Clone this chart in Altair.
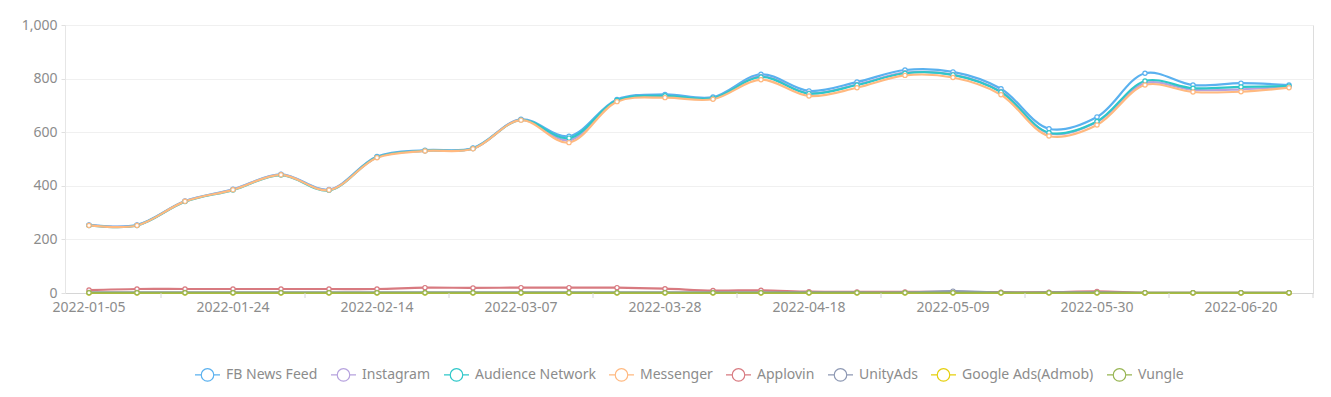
import altair as alt
import pandas as pd

dates = ["2022-01-05", "2022-01-10", "2022-01-17", "2022-01-24", "2022-01-31", "2022-02-07",
         "2022-02-14", "2022-02-21", "2022-02-28", "2022-03-07", "2022-03-14", "2022-03-21",
         "2022-03-28", "2022-04-04", "2022-04-11", "2022-04-18", "2022-04-25", "2022-05-02",
         "2022-05-09", "2022-05-16", "2022-05-23", "2022-05-30", "2022-06-06", "2022-06-13",
         "2022-06-20", "2022-06-27"]

fb_news_feed = [254, 254, 343, 387, 443, 386, 509, 533, 541, 648, 585, 722, 741, 731, 816, 754,
                787, 832, 825, 762, 613, 657, 820, 776, 783, 776]
instagram = [253, 253, 342, 386, 442, 385, 507, 531, 539, 647, 570, 717, 734, 726, 808, 745,
             778, 822, 815, 752, 596, 638, 783, 758, 760, 770]
audience_network = [252, 252, 341, 384, 440, 383, 507, 531, 539, 646, 578, 719, 736, 727, 806, 744,
                    776, 820, 814, 750, 598, 640, 791, 764, 769, 772]
messenger = [252, 252, 342, 385, 441, 384, 505, 530, 538, 645, 561, 714, 729, 723, 796, 735,
             766, 812, 804, 740, 586, 627, 776, 750, 751, 766]
applovin = [11, 15, 15, 15, 15, 15, 15, 20, 19, 20, 20, 20, 16, 9, 10, 5,
            4, 4, 4, 3, 3, 6, 1, 1, 1, 1]
unityads = [2, 2, 2, 2, 2, 2, 2, 2, 2, 2, 2, 2, 2, 2, 2, 2,
            2, 2, 7, 2, 2, 2, 1, 1, 1, 1]
google_ads = [0, 0, 0, 0, 0, 0, 0, 0, 0, 0, 0, 0, 0, 0, 0, 0,
              0, 0, 0, 0, 0, 0, 0, 0, 0, 0]
vungle = [1, 1, 1, 1, 1, 1, 1, 1, 1, 1, 1, 1, 1, 1, 1, 1,
          1, 1, 1, 1, 1, 1, 1, 1, 1, 1]

series_names = ["FB News Feed", "Instagram", "Audience Network", "Messenger",
                "Applovin", "UnityAds", "Google Ads(Admob)", "Vungle"]
series_values = [fb_news_feed, instagram, audience_network, messenger,
                 applovin, unityads, google_ads, vungle]
series_colors = ["#5ab1ef", "#b6a2de", "#2ec7c9", "#ffb980",
                 "#d87a80", "#8d98b3", "#e5cf0d", "#97b552"]

rows = []
for order, (name, vals) in enumerate(zip(series_names, series_values)):
    for d, v in zip(dates, vals):
        rows.append({"date": d, "series": name, "value": v, "ord": order})
df = pd.DataFrame(rows)

label_dates = dates[0::3]
tick_dates = dates[2::3]
tick_df = pd.DataFrame({"date": tick_dates})
end_df = pd.DataFrame({"date": [dates[-1]]})

W, H = 1248, 268
FONT = "Noto Sans"
GRAY = "#8c8c8c"

xscale = alt.Scale(type="band", domain=dates, paddingInner=0, paddingOuter=0)
cscale = alt.Scale(domain=series_names, range=series_colors)

legend_symbol = ("M-1,0L-0.5,0M0.5,0L1,0"
                 "M-0.5,0A0.5,0.5 0 1,0 0.5,0A0.5,0.5 0 1,0 -0.5,0Z")

base = alt.Chart(df)

lines = base.mark_line(interpolate="catmull-rom", strokeWidth=2.2).encode(
    x=alt.X("date:N", scale=xscale, bandPosition=0.5,
            axis=alt.Axis(values=label_dates, labelAngle=0, ticks=False, title=None,
                          labelColor=GRAY, labelFontSize=14, labelFont=FONT,
                          domainColor="#d6d6d6", labelPadding=7, grid=False)),
    y=alt.Y("value:Q", scale=alt.Scale(domain=[0, 1000], nice=False),
            axis=alt.Axis(values=[0, 200, 400, 600, 800, 1000], format=",.0f", title=None,
                          labelColor=GRAY, labelFontSize=14, labelFont=FONT,
                          tickSize=4, tickColor="#e0e0e0", domainColor="#e6e6e6",
                          labelPadding=4, gridColor="#f0f0f0")),
    color=alt.Color("series:N", scale=cscale, sort=series_names,
                    legend=alt.Legend(title=None, orient="none", direction="horizontal",
                                      legendX=129, legendY=336, columns=8,
                                      symbolType=legend_symbol, symbolSize=625,
                                      symbolFillColor="white", symbolStrokeWidth=1.2,
                                      labelFont=FONT, labelFontSize=14, labelColor=GRAY,
                                      labelOffset=5, columnPadding=10)),
    detail="series:N",
    order=alt.Order("ord:Q"),
)

points = base.mark_point(shape="circle", filled=False, fill="white", fillOpacity=1,
                         opacity=1, size=18, strokeWidth=1.2).encode(
    x=alt.X("date:N", scale=xscale, bandPosition=0.5),
    y=alt.Y("value:Q"),
    stroke=alt.Stroke("series:N", scale=cscale, legend=None),
)

ticks = alt.Chart(tick_df).mark_rule(color="#d6d6d6").encode(
    x=alt.X("date:N", scale=xscale, bandPosition=0),
    y=alt.value(H), y2=alt.value(H + 5),
)
end_tick = alt.Chart(end_df).mark_rule(color="#d6d6d6").encode(
    x=alt.X("date:N", scale=xscale, bandPosition=1),
    y=alt.value(H), y2=alt.value(H + 5),
)

chart = alt.layer(lines, points, ticks, end_tick).properties(
    width=W, height=H,
    padding={"left": 13, "top": 10, "right": 5, "bottom": 5},
).configure_view(stroke=None).configure(font=FONT)

chart.save("out.html", embed_options={"renderer": "svg", "actions": False})
